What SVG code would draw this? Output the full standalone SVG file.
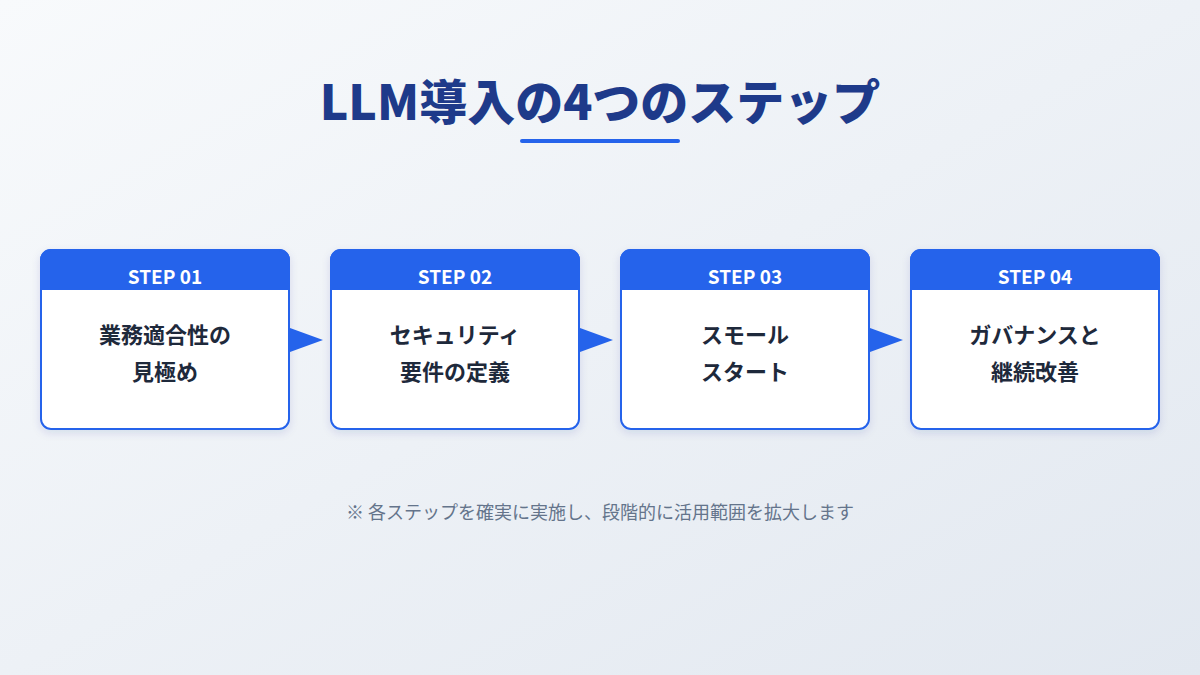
<svg xmlns="http://www.w3.org/2000/svg" width="1200" height="675" viewBox="0 0 1200 675">
<defs>
<linearGradient id="bg" x1="0" y1="0" x2="1" y2="1"><stop offset="0" stop-color="#f8fafc"/><stop offset="1" stop-color="#e2e8f0"/></linearGradient>
<filter id="sh" x="-10%" y="-10%" width="120%" height="130%"><feDropShadow dx="0" dy="3" stdDeviation="4" flood-color="#1e3a8a" flood-opacity="0.12"/></filter>
<clipPath id="c"><rect x="0" y="0" width="250" height="181" rx="11"/></clipPath>
</defs>
<style>
text{font-family:"Noto Sans CJK JP","Noto Sans",sans-serif}
.hd{font-size:19px;font-weight:700;fill:#fff;text-anchor:middle}
.bd{font-size:22px;font-weight:700;fill:#1e293b;text-anchor:middle}
.arr{fill:#2563eb}
</style>
<rect width="1200" height="675" fill="url(#bg)"/>
<text x="600" y="120" text-anchor="middle" style="font-size:48px;font-weight:900;fill:#1e3a8a">LLM導入の4つのステップ</text>
<rect x="520" y="139" width="160" height="4" rx="2" fill="#2563eb"/>
<g id="step1" transform="translate(40,249)">
<g filter="url(#sh)"><rect width="250" height="181" rx="11" fill="#fff"/></g>
<g clip-path="url(#c)"><rect width="250" height="41" fill="#2563eb"/></g>
<rect x="1" y="1" width="248" height="179" rx="10" fill="none" stroke="#2563eb" stroke-width="2"/>
<text class="hd" x="125" y="35">STEP 01</text>
<text class="bd" x="125" y="94">業務適合性の</text>
<text class="bd" x="125" y="131">見極め</text>
</g>
<g id="step2" transform="translate(330,249)">
<g filter="url(#sh)"><rect width="250" height="181" rx="11" fill="#fff"/></g>
<g clip-path="url(#c)"><rect width="250" height="41" fill="#2563eb"/></g>
<rect x="1" y="1" width="248" height="179" rx="10" fill="none" stroke="#2563eb" stroke-width="2"/>
<text class="hd" x="125" y="35">STEP 02</text>
<text class="bd" x="125" y="94">セキュリティ</text>
<text class="bd" x="125" y="131">要件の定義</text>
</g>
<g id="step3" transform="translate(620,249)">
<g filter="url(#sh)"><rect width="250" height="181" rx="11" fill="#fff"/></g>
<g clip-path="url(#c)"><rect width="250" height="41" fill="#2563eb"/></g>
<rect x="1" y="1" width="248" height="179" rx="10" fill="none" stroke="#2563eb" stroke-width="2"/>
<text class="hd" x="125" y="35">STEP 03</text>
<text class="bd" x="125" y="94">スモール</text>
<text class="bd" x="125" y="131">スタート</text>
</g>
<g id="step4" transform="translate(910,249)">
<g filter="url(#sh)"><rect width="250" height="181" rx="11" fill="#fff"/></g>
<g clip-path="url(#c)"><rect width="250" height="41" fill="#2563eb"/></g>
<rect x="1" y="1" width="248" height="179" rx="10" fill="none" stroke="#2563eb" stroke-width="2"/>
<text class="hd" x="125" y="35">STEP 04</text>
<text class="bd" x="125" y="94">ガバナンスと</text>
<text class="bd" x="125" y="131">継続改善</text>
</g>
<g id="connectors">
<polygon class="arr" points="290,328 323,340 290,352"/>
<polygon class="arr" points="580,328 613,340 580,352"/>
<polygon class="arr" points="870,328 903,340 870,352"/>
</g>
<text x="600" y="519" text-anchor="middle" style="font-size:18px;fill:#64748b">※ 各ステップを確実に実施し、段階的に活用範囲を拡大します</text>
</svg>
